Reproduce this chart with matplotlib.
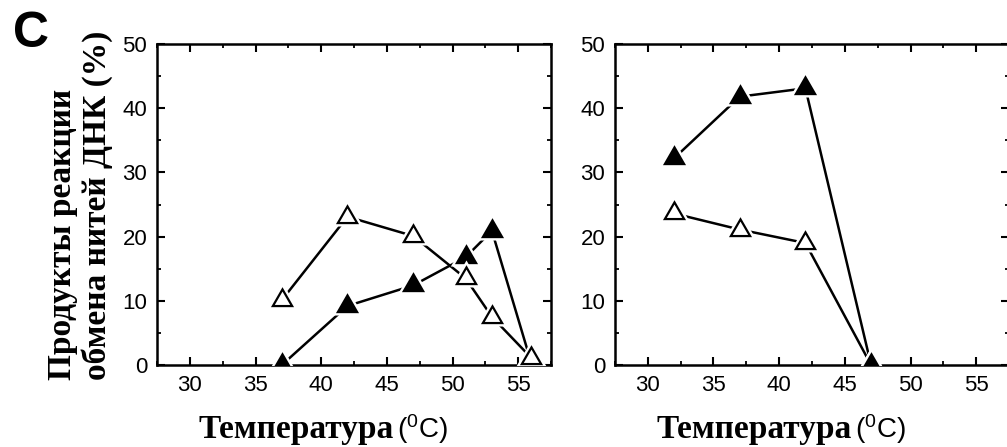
"""
Strand-exchange products vs temperature, two panels (panel C).
"""
import matplotlib
matplotlib.use("Agg")
import matplotlib.pyplot as plt
from matplotlib.ticker import MultipleLocator

plt.rcParams["font.family"] = ["Liberation Sans", "DejaVu Sans"]
plt.rcParams["mathtext.fontset"] = "custom"
plt.rcParams["mathtext.rm"] = "Liberation Sans"
plt.rcParams["mathtext.it"] = "Liberation Sans:italic"

# left panel
left_open_t = [37, 42, 47, 51, 53, 56]
left_open_v = [10.1, 23.1, 20.1, 13.5, 7.5, 1.1]
left_fill_t = [37, 42, 47, 51, 53, 56]
left_fill_v = [0.0, 9.2, 12.4, 16.8, 20.9, 0.3]

# right panel
right_fill_t = [32, 37, 42, 47]
right_fill_v = [32.2, 41.8, 43.1, 0.0]
right_open_t = [32, 37, 42, 47]
right_open_v = [23.6, 21.1, 19.0, 0.0]

xticks = [30, 35, 40, 45, 50, 55]
yticks = [0, 10, 20, 30, 40, 50]
xlabel = "Температура"
xunit = r"($^\mathrm{0}$C)"
ylabel = "Продукты реакции\nобмена нитей ДНК (%)"

TRI = (3, 0, 0)   # equilateral triangle
MS = 16


def draw_series(ax, t, v, filled, z=0):
    ax.plot(t, v, color="black", lw=1.8, zorder=2)
    # white halo gives the small gap between line and marker
    ax.plot(t, v, ls="none", marker=TRI, ms=MS, mfc="white", mec="white",
            mew=5, zorder=3 + z)
    ax.plot(t, v, ls="none", marker=TRI, ms=MS,
            mfc="black" if filled else "white", mec="black", mew=1.6,
            zorder=3.5 + z)


def style_axes(ax):
    ax.set_xlim(27.5, 57.5)
    ax.set_ylim(0, 50)
    ax.set_xticks(xticks)
    ax.set_yticks(yticks)
    ax.xaxis.set_minor_locator(MultipleLocator(2.5))
    ax.yaxis.set_minor_locator(MultipleLocator(5))
    ax.tick_params(which="both", direction="in", top=True, right=True,
                   width=1.5, labelsize=16, colors="black")
    ax.tick_params(which="major", length=6)
    ax.tick_params(which="minor", length=3, width=1.3)
    ax.tick_params(axis="y", pad=7)
    ax.tick_params(axis="x", pad=7)
    for s in ax.spines.values():
        s.set_linewidth(1.8)
    ax.text(0.6015, -0.228, xlabel, transform=ax.transAxes, ha="right",
            va="baseline", fontsize=24, fontweight="bold",
            family=["Liberation Serif", "DejaVu Serif"])
    ax.text(0.609, -0.228, xunit, transform=ax.transAxes, ha="left",
            va="baseline", fontsize=20)


fig = plt.figure(figsize=(10.07, 4.47), dpi=100)
ax1 = fig.add_axes([0.1559, 0.1834, 0.3913, 0.7182])
ax2 = fig.add_axes([0.6107, 0.1834, 0.3913, 0.7182])

# left: open markers sit on top; right: filled markers sit on top
draw_series(ax1, left_fill_t, left_fill_v, True, z=0)
draw_series(ax1, left_open_t, left_open_v, False, z=1)
draw_series(ax2, right_open_t, right_open_v, False, z=0)
draw_series(ax2, right_fill_t, right_fill_v, True, z=1)

style_axes(ax1)
style_axes(ax2)

fig.text(0.0795, 0.150, ylabel, rotation=90, ha="center", va="bottom",
         multialignment="left", fontsize=24, fontweight="bold",
         family=["Liberation Serif", "DejaVu Serif"], linespacing=1.1)
fig.text(0.013, 0.895, "C", fontsize=36, fontweight="bold", va="baseline")

fig.savefig("out.png", dpi=100, facecolor="white")
